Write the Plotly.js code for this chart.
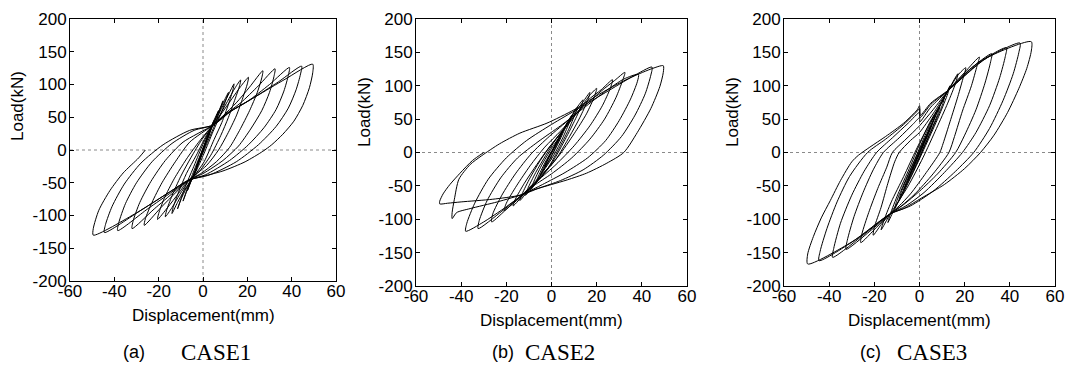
<!DOCTYPE html>
<html>
<head>
<meta charset="utf-8">
<script src="https://cdn.plot.ly/plotly-3.0.1.min.js"></script>
<style>html,body{margin:0;padding:0;background:#fff}#chart{width:1069px;height:370px}</style>
</head>
<body>
<div id="chart"></div>
<script>
// ---- Data (displacement mm, load kN) ----
const xTicks = [-60, -40, -20, 0, 20, 40, 60];
const yTicks = [-200, -150, -100, -50, 0, 50, 100, 150, 200];
const xTitle = 'Displacement(mm)';
const yTitle = 'Load(kN)';
const panelLetters = ['(a)', '(b)', '(c)'];
const caseNames = ['CASE1', 'CASE2', 'CASE3'];

const case1Path = [
[0,0],
[1.5,14],[3,25],[2,18],[0,3],[-1.5,-12],[-3,-25],[-2,-18],[0,-2],
[2.5,24],[5,45],[4,38],[2,20],[-1,-8],[-3,-28],[-5,-45],[-4,-38],[-2,-20],[0,0],
[2,22],[4.5,42],[7,60],[6,50],[3.5,30],[0.5,5],[-2.5,-22],[-5,-44],[-7,-62],[-6,-52],[-3.5,-32],[-0.5,-6],[2,16],
[4.5,40],[7,58],[9,75],[8,64],[5.5,40],[2,12],[-2,-20],[-5,-45],[-7,-60],[-9,-78],[-8,-68],[-5.5,-44],[-2,-14],[1.5,14],[4,35],
[7,58],[9.5,75],[11.5,88],[10.5,78],[8,55],[4.5,28],[0.5,-5],[-3.5,-35],[-6.5,-52],[-9.5,-72],[-11.5,-90],[-10.5,-80],[-8,-56],[-4.5,-28],[-0.5,5],[3.5,34],
[6,48],[9,68],[12,88],[14,101],[13.5,92],[11.5,70],[8.5,42],[5,16],[0.5,-18],[-4,-40],[-8.5,-62],[-11.5,-80],[-14,-97],[-13.5,-88],[-11,-64],[-7.5,-36],[-3,-8],[1.5,22],[4.5,38],
[7,50],[11,74],[14.5,95],[17,107],[16.5,98],[14.5,78],[11.5,50],[8,22],[3.5,-8],[-1.5,-32],[-6.5,-48],[-10.5,-68],[-14,-88],[-17,-102],[-16.5,-93],[-14,-70],[-10,-40],[-5.5,-12],[-0.5,16],[4.5,38],
[8,54],[13,78],[17,97],[20.5,111],[20,101],[18,80],[15,52],[11,24],[7,0],[1.5,-24],[-6.5,-46],[-11,-66],[-16,-88],[-20.5,-106],[-20,-97],[-17.5,-74],[-13,-44],[-7.5,-14],[-1.5,14],[4.5,38],
[9,52],[15,72],[21,96],[27,121],[26.5,110],[24.5,88],[21,60],[16.5,30],[12,4],[6,-18],[-1,-36],[-6.5,-46],[-12,-64],[-19,-88],[-26.5,-115],[-26,-105],[-23,-80],[-18.5,-50],[-12.5,-18],[-6,12],[4.5,38],
[10,54],[17,72],[25,98],[32.5,124],[32,112],[30,88],[26.5,60],[21.5,32],[16,6],[9,-16],[0,-36],[-6.5,-46],[-13,-64],[-22,-90],[-32,-120],[-31.5,-108],[-28.5,-80],[-23.5,-48],[-17,-16],[-9,12],[4.5,38],
[11,56],[20,74],[30,100],[39,126],[38.5,114],[36.5,90],[33,62],[27.5,34],[20.5,8],[12,-16],[1,-38],[-6.5,-46],[-14,-64],[-25,-90],[-38.5,-123],[-38,-111],[-35,-82],[-30,-50],[-23,-18],[-14,10],[-4,30],[4.5,38],
[12,58],[22,78],[34,104],[44.5,128],[44,116],[42,92],[38.5,64],[33,36],[25,8],[15,-18],[3,-38],[-6.5,-46],[-15,-64],[-28,-92],[-44.5,-126],[-44,-114],[-41,-86],[-35.5,-52],[-28,-20],[-18,8],[-6,30],[4.5,38],
[13,60],[24,82],[37,108],[49.5,131],[49.5,118],[48,95],[45,68],[41,44],[36,24],[31,8],[27,-2],[19,-18],[9,-32],[-1,-41],[-6.5,-46],[-15,-64],[-30,-96],[-49.5,-130],[-49.5,-120],[-47,-92],[-42,-62],[-36,-35],[-29,-12],[-26,0]
];

const case2Path = [
[0,0],
[1.5,10],[3,20],[2,12],[0,0],[-1.5,-10],[-3,-22],[-2,-13],[0,0],
[2.5,16],[5,32],[4,24],[1.5,6],[-1.5,-14],[-5,-34],[-4,-26],[-1.5,-8],[1,6],
[4,24],[7,45],[6,36],[3,14],[-1,-12],[-4,-28],[-7,-46],[-6,-37],[-3,-16],[1,8],
[4.5,30],[9,56],[8,46],[5,22],[1,-4],[-4,-30],[-9,-55],[-8,-45],[-4.5,-20],[0,6],[4,26],
[8,50],[11.5,68],[10.5,58],[7.5,34],[3,4],[-2,-26],[-7,-46],[-11.5,-64],[-10.5,-54],[-7,-30],[-2.5,-4],[2,20],[7,42],
[11,66],[14,79],[13,68],[10,46],[5.5,16],[0.5,-14],[-5,-38],[-10,-56],[-14,-72],[-13,-62],[-9.5,-38],[-5,-12],[0,12],[6,38],[11,62],
[14,76],[17,90],[16,78],[12.5,52],[8,24],[2,-10],[-4,-34],[-11,-58],[-17,-80],[-16,-70],[-12,-46],[-6.5,-18],[-1,8],[5,32],[11,58],[14,72],
[17,86],[20,96],[19,84],[15.5,58],[10,28],[3,-6],[-4,-32],[-12,-60],[-21,-87],[-20,-76],[-15.5,-50],[-9.5,-20],[-3,8],[4,32],[11,58],[16,78],
[22,94],[27,109],[26,96],[22.5,70],[17,40],[10,10],[2,-18],[-6,-42],[-12,-62],[-19,-82],[-26.5,-104],[-26,-92],[-22,-64],[-16,-32],[-9,-2],[-1,24],[8,50],[16,74],[22,92],
[28,108],[32.5,120],[31.5,108],[28.5,82],[23.5,50],[17,20],[9,-8],[0,-32],[-8,-50],[-14,-66],[-22,-88],[-32.5,-114],[-32,-102],[-28.5,-72],[-22.5,-38],[-15,-8],[-6,16],[4,40],[14,66],[24,92],
[32,110],[38.5,117],[38,106],[35,80],[30,48],[24,18],[16,-8],[6,-30],[-4,-48],[-12,-62],[-22,-86],[-30,-104],[-38,-118],[-37.5,-106],[-34,-76],[-28,-40],[-20,-8],[-11,18],[0,42],[12,66],[24,90],[36,114],
[44.5,128],[44,116],[41.5,88],[37,56],[31,24],[23,-4],[14,-26],[4,-42],[-6,-54],[-12,-62],[-24,-74],[-36,-84],[-42,-90],[-44,-99],[-44,-90],[-43,-70],[-41,-40],[-36,-18],[-31,-5],[-23,13],[-14,29],[-2,44],[10,64],[22,89],[33,109],[44,125],
[49.5,130],[49.5,120],[48,99],[44,66],[38,30],[32,0],[24.5,-16],[15.5,-31],[7,-41],[0,-48],[-8,-56],[-14,-64],[-26,-70],[-40,-74],[-46,-76],[-49.5,-77],[-49.5,-73],[-48,-62],[-45,-48],[-40.5,-31],[-35,-12],[-30,0]
];

const case3Path = [
[0,0],
[1.5,12],[3,25],[2,16],[0,1],[-1.5,-12],[-3,-25],[-2,-16],[0,-1],
[2.5,20],[5,40],[4,31],[1.5,10],[-2,-16],[-5,-40],[-4,-31],[-1.5,-10],[1,8],
[4,30],[7,55],[6,45],[3,20],[-1,-10],[-4,-32],[-7,-56],[-6,-46],[-3,-22],[0.5,5],
[4.5,36],[9,68],[8,57],[4.5,28],[0,-6],[-4.5,-38],[-9,-70],[-8,-59],[-4.5,-30],[0,5],[4,32],
[8,62],[11,82],[10,70],[6.5,42],[2,8],[-3,-30],[-7.5,-60],[-11,-84],[-10,-72],[-6.5,-44],[-2,-10],[2,22],[7,58],
[10,76],[13.5,100],[12.5,88],[9,58],[4,20],[-2,-24],[-8,-66],[-11,-84],[-14,-105],[-13,-93],[-9.5,-62],[-4.5,-24],[0,12],[5,48],[10,76],
[13.5,98],[17,118],[16,104],[12.5,74],[7.5,36],[1.5,-8],[-5,-50],[-11,-82],[-13,-92],[-17,-116],[-16,-104],[-12.5,-74],[-7,-36],[-1.5,4],[3,34],[8,64],[13,94],
[17,116],[20.5,127],[19.5,114],[17,84],[13.5,46],[10.5,14],[9,0],[3,-30],[-4,-62],[-9,-80],[-13,-92],[-17,-108],[-20.5,-124],[-20,-112],[-17,-82],[-14,-46],[-11,-14],[-9,0],[-4,18],[0,30],[6,58],[13,94],
[20,120],[26.5,143],[25.5,130],[23,100],[19,62],[15.5,24],[13,0],[6,-32],[-2,-62],[-8,-80],[-13,-92],[-19,-112],[-26,-135],[-25.5,-122],[-22.5,-90],[-18.5,-54],[-14.5,-22],[-12,0],[-6,20],[0,40],[6,64],[13,94],
[22,124],[32,148],[31.5,136],[29,104],[25,64],[20,26],[16,0],[8,-32],[0,-58],[-7,-78],[-13,-92],[-22,-118],[-32.5,-145],[-32,-132],[-29,-96],[-25,-60],[-20.5,-26],[-16,0],[-9,22],[-3,42],[0,52],[0.2,46],[5,68],[13,94],
[25,132],[38.5,157],[38,144],[35.5,112],[31,70],[25,30],[19,0],[11,-30],[2,-60],[-6,-80],[-13,-92],[-25,-124],[-38.5,-157],[-38,-144],[-35,-106],[-30,-64],[-24.5,-28],[-19,0],[-12,22],[-5,44],[0,60],[0.2,52],[5,72],[13,94],
[28,138],[44.5,164],[44,150],[41.5,118],[37,78],[31,36],[24,0],[16,-28],[6,-58],[-4,-80],[-13,-92],[-28,-130],[-44.5,-162],[-44,-148],[-41,-114],[-36.5,-74],[-31,-36],[-23,0],[-15,20],[-7,42],[-1,62],[0,66],[0.2,55],[5,74],[13,94],
[30,142],[49.5,166],[49.5,152],[47.5,126],[44,96],[39,60],[33,26],[27,0],[20,-24],[11,-48],[1,-68],[-7,-84],[-13,-92],[-30,-134],[-49.5,-167],[-49.5,-152],[-47,-126],[-43.5,-98],[-39.5,-72],[-35,-42],[-30,-14],[-27,-4],[-22,8],[-15,24],[-7,44],[-1,64],[0,70],[0.2,56]
];

// ---- Layout helpers (pixel geometry of the figure) ----
const W = 1069, H = 370;
const panels = [
  {x0: 70,  x1: 336,  y0: 19, y1: 281, path: case1Path, titleY: 315, ylabY: 106},
  {x0: 416, x1: 687,  y0: 19, y1: 286, path: case2Path, titleY: 320, ylabY: 112},
  {x0: 784, x1: 1055, y0: 19, y1: 286, path: case3Path, titleY: 320, ylabY: 112}
];
const px = p => p / W;
const py = p => 1 - p / H;
const SANS = 'Liberation Sans, Arial, Helvetica, sans-serif';
const SERIF = 'Liberation Serif, Times New Roman, serif';

const traces = [];
const layout = {
  width: W, height: H,
  margin: {l: 0, r: 0, t: 0, b: 0},
  paper_bgcolor: '#fff', plot_bgcolor: '#fff',
  showlegend: false,
  shapes: [], annotations: []
};

panels.forEach((p, i) => {
  const n = i === 0 ? '' : String(i + 1);
  traces.push({
    type: 'scatter', mode: 'lines',
    x: p.path.map(d => d[0]), y: p.path.map(d => d[1]),
    xaxis: 'x' + n, yaxis: 'y' + n,
    line: {color: '#000', width: 1, shape: 'spline', smoothing: 0.7},
    hoverinfo: 'skip'
  });
  const common = {
    showline: true, linecolor: '#000', linewidth: 1, mirror: 'ticks',
    ticks: 'inside', ticklen: 4, tickcolor: '#000', tickwidth: 1,
    showgrid: false, zeroline: false, fixedrange: true,
    tickfont: {family: SANS, size: 17, color: '#000'}
  };
  layout['xaxis' + n] = Object.assign({}, common, {
    domain: [px(p.x0), px(p.x1)], range: [-60, 60],
    tickmode: 'array', tickvals: xTicks, ticktext: xTicks.map(String),
    ticklabelstandoff: -5,
    anchor: 'y' + n
  });
  layout['yaxis' + n] = Object.assign({}, common, {
    domain: [py(p.y1), py(p.y0)], range: [-200, 200],
    tickmode: 'array', tickvals: yTicks, ticktext: yTicks.map(String),
    ticklabelstandoff: -1,
    anchor: 'x' + n
  });
  // dotted zero reference lines
  layout.shapes.push({type: 'line', xref: 'x' + n, yref: 'y' + n, x0: 0, x1: 0, y0: -200, y1: 200,
    line: {color: '#8a8a8a', width: 1, dash: 'dot'}, layer: 'below'});
  layout.shapes.push({type: 'line', xref: 'x' + n, yref: 'y' + n, x0: -60, x1: 60, y0: 0, y1: 0,
    line: {color: '#8a8a8a', width: 1, dash: 'dot'}, layer: 'below'});
  // axis titles
  layout.annotations.push({xref: 'paper', yref: 'paper', x: px((p.x0 + p.x1) / 2), y: py(p.titleY),
    xanchor: 'center', yanchor: 'middle', showarrow: false, text: xTitle,
    font: {family: SANS, size: 17, color: '#000'}});
  layout.annotations.push({xref: 'paper', yref: 'paper', x: px(p.x0 - 52), y: py(p.ylabY),
    xanchor: 'center', yanchor: 'middle', showarrow: false, text: yTitle, textangle: -90,
    font: {family: SANS, size: 17, color: '#000'}});
});

// captions
const letterX = [134, 503, 870];
const caseX = [216, 560, 932];
panelLetters.forEach((t, i) => {
  layout.annotations.push({xref: 'paper', yref: 'paper', x: px(letterX[i]), y: py(352),
    xanchor: 'center', yanchor: 'middle', showarrow: false, text: t,
    font: {family: SANS, size: 18, color: '#000'}});
  layout.annotations.push({xref: 'paper', yref: 'paper', x: px(caseX[i]), y: py(352),
    xanchor: 'center', yanchor: 'middle', showarrow: false, text: caseNames[i],
    font: {family: SERIF, size: 23, color: '#000'}});
});

Plotly.newPlot('chart', traces, layout, {staticPlot: true, displayModeBar: false});
</script>
</body>
</html>
